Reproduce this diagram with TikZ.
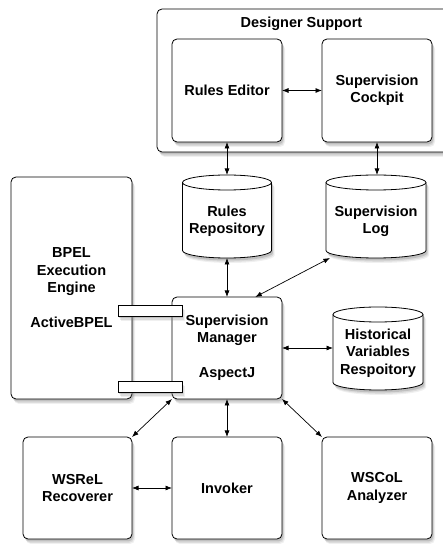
\documentclass[tikz,border=0pt]{standalone}
\usepackage{fontspec}
\setmainfont{Liberation Sans}
\usetikzlibrary{arrows.meta,shadows,calc}
\tikzset{
  x=1pt,y=1pt,
  lbl/.style={align=center, font=\fontsize{14.5}{17.5}\selectfont\bfseries, inner sep=0pt, outer sep=0pt},
  shad/.style={
    drop shadow={shadow xshift=3pt, shadow yshift=-5pt, opacity=0.12},
    drop shadow={shadow xshift=2.2pt, shadow yshift=-3.8pt, opacity=0.18},
    drop shadow={shadow xshift=1.4pt, shadow yshift=-2.5pt, opacity=0.3}},
  box/.style={lbl, draw, fill=white, rounded corners=5pt, line width=0.8pt, shad},
  bar/.style={draw, fill=white, line width=0.8pt, inner sep=0pt, outer sep=0pt, shad},
  cylbox/.style={inner sep=0pt, outer sep=0pt},
  cylpath/.style={draw, fill=white, line width=0.8pt, shad},
  conn/.style={{Latex[length=6.5pt,width=5pt]}-{Latex[length=6.5pt,width=5pt]}, line width=0.7pt}
}
\newcommand\cylbody[2]{%
  \path[cylpath] ([yshift=-7.5]#1.north west) -- ([yshift=7.5]#1.south west)
    arc[start angle=180, end angle=360, x radius=#2, y radius=7.5]
    -- ([yshift=-7.5]#1.north east)
    arc[start angle=0, end angle=180, x radius=#2, y radius=7.5] -- cycle;
  \draw[line width=0.8pt] ([yshift=-7.5]#1.north west)
    arc[start angle=180, end angle=360, x radius=#2, y radius=7.5];
}
\begin{document}
\begin{tikzpicture}
\useasboundingbox (0,0) rectangle (443,544);
% Designer support
\node[box, minimum width=293, minimum height=143] (DS) at (303.5,463.5) {};
\node[lbl] (DSt) at (301.5,520) {Designer Support};
\node[box, minimum width=110, minimum height=103] (RE) at (227,453.5) {Rules Editor};
\node[box, minimum width=110, minimum height=103] (SC) at (377,453.5) {Supervision\\Cockpit};
% cylinders
\node[cylbox, minimum width=89, minimum height=83] (RR) at (227,327.5) {};
\cylbody{RR}{44.5}
\node[lbl] (RRt) at ([yshift=-5]RR.center) {Rules\\Repository};
\node[cylbox, minimum width=100, minimum height=83] (SL) at (376,327.5) {};
\cylbody{SL}{50}
\node[lbl] (SLt) at ([yshift=-5]SL.center) {Supervision\\Log};
\node[cylbox, minimum width=90, minimum height=83] (HV) at (378,195.5) {};
\cylbody{HV}{45}
\node[lbl] (HVt) at ([yshift=-4.5]HV.center) {Historical\\Variables\\Respoitory};
% engine and manager
\node[box, minimum width=121, minimum height=222] (BP) at (71.5,256) {BPEL\\Execution\\Engine\\[17.5pt]ActiveBPEL};
\node[box, minimum width=110, minimum height=102] (SM) at (227,196) {Supervision\\Manager\\[17.5pt]AspectJ};
\node[bar, minimum width=64, minimum height=11] (B1) at (150,233.5) {};
\node[bar, minimum width=64, minimum height=11] (B2) at (150,157.5) {};
% bottom row
\node[box, minimum width=109, minimum height=102] (WR) at (77.5,56) {WSReL\\Recoverer};
\node[box, minimum width=110, minimum height=102] (IV) at (227,56) {Invoker};
\node[box, minimum width=110, minimum height=102] (WC) at (377,56) {WSCoL\\Analyzer};
% connectors
\draw[conn] (RE.east) -- (SC.west);
\draw[conn] (RE.south) -- (RR.north);
\draw[conn] (SC.south) -- (SC.south |- SL.north);
\draw[conn] (RR.south) -- (SM.north);
\draw[conn] (SL.222) -- (SM.61);
\draw[conn] (SM.east) -- (SM.east -| HV.west);
\draw[conn] (SM.south west) -- (WR.north east);
\draw[conn] (SM.south) -- (IV.north);
\draw[conn] (SM.south east) -- (WC.north west);
\draw[conn] (WR.east) -- (IV.west);
\end{tikzpicture}
\end{document}
